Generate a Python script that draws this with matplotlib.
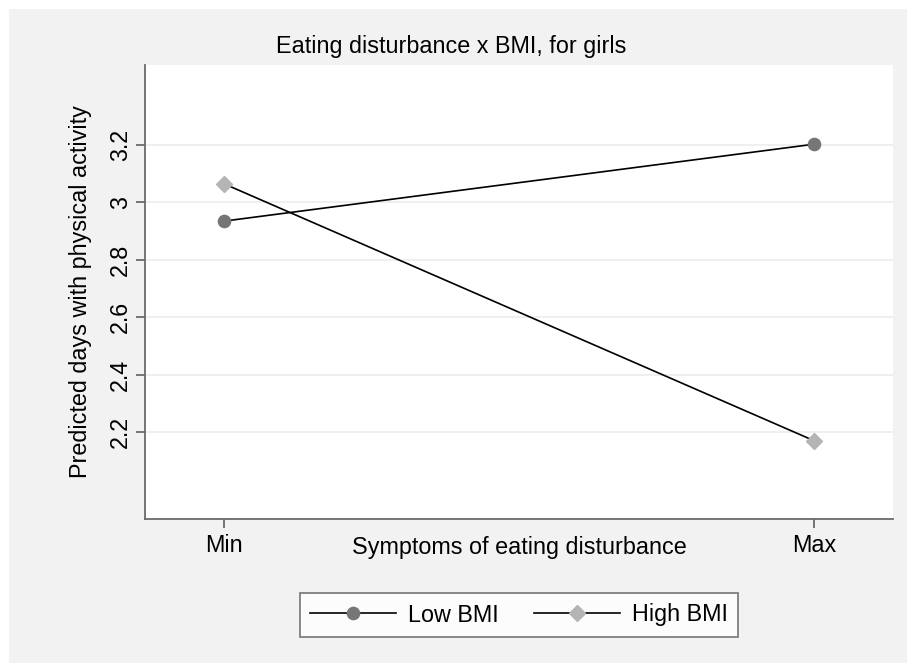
import matplotlib
matplotlib.use("Agg")
import matplotlib.pyplot as plt

plt.rcParams['font.family'] = ['Liberation Sans', 'DejaVu Sans']

# data
x_labels = ["Min", "Max"]
low_bmi = [2.935, 3.203]
high_bmi = [3.065, 2.170]
y_ticks = [2.2, 2.4, 2.6, 2.8, 3.0, 3.2]
y_tick_labels = ["2.2", "2.4", "2.6", "2.8", "3", "3.2"]

bg = "#f2f2f2"
fs = 16.8

fig = plt.figure(figsize=(9.07, 6.63), dpi=100)
fig.patch.set_facecolor("white")
# light gray graph region inset from the edge
fig.patches.append(plt.Rectangle((9 / 907, 0), 898 / 907, 654 / 663,
                                 transform=fig.transFigure, facecolor=bg,
                                 edgecolor="none", zorder=-10))

ax = fig.add_axes([145 / 907, 1 - 519 / 663, 748 / 907, 454 / 663])
ax.set_facecolor("white")

xs = list(range(len(x_labels)))
ax.plot(xs, low_bmi, color="black", lw=1.2, marker="o", ms=8.8,
        mfc="#767676", mec="#767676", label="Low BMI", zorder=3)
ax.plot(xs, high_bmi, color="black", lw=1.2, marker="D", ms=8.5,
        mfc="#b4b4b4", mec="#b4b4b4", label="High BMI", zorder=3)

ax.set_xlim(-0.134, 1.134)
ax.set_ylim(1.897, 3.479)
ax.set_xticks(xs)
ax.set_xticklabels(x_labels, fontsize=fs)
ax.set_yticks(y_ticks)
ax.set_yticklabels(y_tick_labels, fontsize=fs, rotation=90, va="center")
ax.grid(axis="y", color="#ebebeb", lw=1.1)
ax.set_axisbelow(True)

for s in ["top", "right"]:
    ax.spines[s].set_visible(False)
for s in ["left", "bottom"]:
    ax.spines[s].set_color("#6a6a6a")
    ax.spines[s].set_linewidth(1.3)
ax.tick_params(colors="#6a6a6a", labelcolor="black", length=6.5, width=1.3)
ax.tick_params(axis="y", pad=3)
ax.tick_params(axis="x", pad=4)

ax.set_ylabel("Predicted days with physical activity", fontsize=fs, labelpad=12)
ax.set_xlabel("Symptoms of eating disturbance", fontsize=fs, labelpad=-15)

fig.text(0.498, 1 - 46 / 663, "Eating disturbance x BMI, for girls",
         fontsize=fs, ha="center", va="center")

leg = fig.legend(loc="center", bbox_to_anchor=(519 / 907, 1 - 615 / 663), ncol=2,
                 fontsize=fs, frameon=True, fancybox=False, handlelength=3.7,
                 columnspacing=1.5, handletextpad=0.5, borderpad=0.45)
leg.get_frame().set_edgecolor("#555555")
leg.get_frame().set_linewidth(1.2)

fig.savefig("out.png", dpi=100, facecolor=fig.get_facecolor())
